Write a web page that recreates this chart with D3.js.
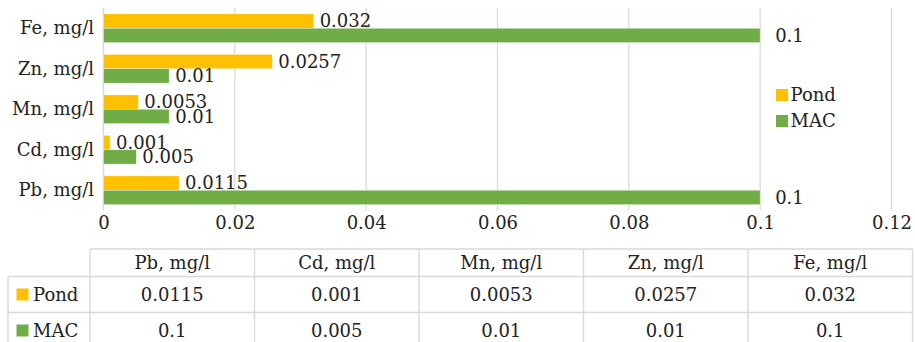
<!DOCTYPE html>
<html>
<head>
<meta charset="utf-8">
<script src="https://cdnjs.cloudflare.com/ajax/libs/d3/7.8.5/d3.min.js"></script>
<style>
    body { margin: 0; background: #fff; }
    svg text { font-family: 'DejaVu Serif'; font-size: 18px; fill: #222; }
</style>
</head>
<body>
<div id="chart"></div>
<script>
// categories, bottom to top as in the table
var categories = ["Pb, mg/l", "Cd, mg/l", "Mn, mg/l", "Zn, mg/l", "Fe, mg/l"];
var pond = [0.0115, 0.001, 0.0053, 0.0257, 0.032];
var mac = [0.1, 0.005, 0.01, 0.01, 0.1];
var pondLabels = ["0.0115", "0.001", "0.0053", "0.0257", "0.032"];
var macLabels = ["0.1", "0.005", "0.01", "0.01", "0.1"];
var seriesNames = ["Pond", "MAC"];
var xTicks = [0, 0.02, 0.04, 0.06, 0.08, 0.1, 0.12];

var colors = {Pond: "#FFC000", MAC: "#70AD47"};
var gridColor = "#d9d9d9";

var width = 915, height = 342;
var svg = d3.select("#chart").append("svg")
    .attr("width", width)
    .attr("height", height);

var series = [
    {name: "Pond", values: pond, labels: pondLabels},
    {name: "MAC", values: mac, labels: macLabels}
];

// plot area
var x = d3.scaleLinear().domain([0, 0.12]).range([103.5, 891.5]);
var y = d3.scaleBand()
    .domain(categories.slice().reverse())
    .range([8, 210.5])
    .paddingInner(0.29)
    .paddingOuter(0.145);
var ySub = d3.scaleBand().domain(seriesNames).range([0, y.bandwidth()]);

// gridlines
svg.append("g")
    .selectAll("line")
    .data(xTicks)
    .enter()
    .append("line")
    .attr("x1", d => x(d))
    .attr("x2", d => x(d))
    .attr("y1", 8)
    .attr("y2", 210.5)
    .attr("stroke", gridColor)
    .attr("stroke-width", d => d === 0 ? 1.6 : 1.2);

// x axis labels
var xAxis = d3.axisBottom(x).tickValues(xTicks).tickSize(0).tickPadding(6)
    .tickFormat(d => d === 0 ? "0" : d3.format("")(+d.toFixed(2)));
var gx = svg.append("g")
    .attr("class", "x-axis")
    .attr("transform", "translate(0,210.5)")
    .call(xAxis);
gx.select(".domain").remove();
gx.attr("font-family", null).attr("font-size", null);
gx.selectAll("text").attr("fill", null);

// y axis labels
var yAxis = d3.axisLeft(y).tickSize(0).tickPadding(9.5);
var gy = svg.append("g")
    .attr("class", "y-axis")
    .attr("transform", "translate(103.5,0)")
    .call(yAxis);
gy.select(".domain").remove();
gy.attr("font-family", null).attr("font-size", null);
gy.selectAll("text").attr("fill", null);

// bars
var groups = svg.selectAll(".series")
    .data(series)
    .enter()
    .append("g")
    .attr("class", "series");

groups.selectAll("rect")
    .data(s => s.values.map((v, i) => ({name: s.name, cat: categories[i], value: v})))
    .enter()
    .append("rect")
    .attr("x", x(0))
    .attr("y", d => y(d.cat) + ySub(d.name))
    .attr("width", d => x(d.value) - x(0))
    .attr("height", ySub.bandwidth())
    .attr("fill", d => colors[d.name])
    .attr("stroke", "#fff")
    .attr("stroke-opacity", 0.6)
    .attr("stroke-width", 0.6);

// data labels
groups.selectAll(".dlabel")
    .data(s => s.values.map((v, i) => ({name: s.name, cat: categories[i], value: v, label: s.labels[i]})))
    .enter()
    .append("text")
    .attr("class", "dlabel")
    .attr("x", d => x(d.value) + (d.value >= 0.1 ? 15 : 6))
    .attr("y", d => y(d.cat) + ySub(d.name) + ySub.bandwidth() / 2)
    .attr("dy", "0.35em")
    .text(d => d.label);

// legend
var legend = svg.append("g").attr("transform", "translate(776,95)");
legend.selectAll("rect")
    .data(seriesNames)
    .enter()
    .append("rect")
    .attr("x", 0)
    .attr("y", (d, i) => i * 26 - 6)
    .attr("width", 12)
    .attr("height", 12)
    .attr("fill", d => colors[d]);
legend.selectAll("text")
    .data(seriesNames)
    .enter()
    .append("text")
    .attr("x", 14.5)
    .attr("y", (d, i) => i * 26)
    .attr("dy", "0.35em")
    .text(d => d);

// data table
var colX = d3.scaleBand().domain(categories).range([90, 912.5]);
var rowY = [249, 276.5, 312.5, 349];
var table = svg.append("g").attr("class", "table");

// horizontal rules
table.append("line")
    .attr("x1", colX.range()[0]).attr("x2", colX.range()[1])
    .attr("y1", rowY[0]).attr("y2", rowY[0]);
[1, 2].forEach(r => {
    table.append("line")
        .attr("x1", 8).attr("x2", colX.range()[1])
        .attr("y1", rowY[r]).attr("y2", rowY[r]);
});
// vertical rules
table.append("line")
    .attr("x1", 8).attr("x2", 8)
    .attr("y1", rowY[1]).attr("y2", rowY[3]);
categories.concat(["end"]).forEach((c, i) => {
    var xx = i < categories.length ? colX(c) : colX.range()[1];
    table.append("line")
        .attr("x1", xx).attr("x2", xx)
        .attr("y1", rowY[0]).attr("y2", rowY[3]);
});
table.selectAll("line")
    .attr("stroke", gridColor)
    .attr("stroke-width", 1.4);

// header
table.selectAll(".head")
    .data(categories)
    .enter()
    .append("text")
    .attr("class", "head")
    .attr("x", d => colX(d) + colX.bandwidth() / 2)
    .attr("y", 263)
    .attr("dy", "0.35em")
    .attr("text-anchor", "middle")
    .text(d => d);

var rowCenters = [294.5, 330.5];
series.forEach((s, r) => {
    table.append("rect")
        .attr("x", 16.5)
        .attr("y", rowCenters[r] - 6)
        .attr("width", 12)
        .attr("height", 12)
        .attr("fill", colors[s.name]);
    table.append("text")
        .attr("x", 33)
        .attr("y", rowCenters[r])
        .attr("dy", "0.35em")
        .text(s.name);
    table.selectAll(".cell" + r)
        .data(s.labels)
        .enter()
        .append("text")
        .attr("x", (d, i) => colX(categories[i]) + colX.bandwidth() / 2)
        .attr("y", rowCenters[r])
        .attr("dy", "0.35em")
        .attr("text-anchor", "middle")
        .text(d => d);
});
</script>
</body>
</html>
